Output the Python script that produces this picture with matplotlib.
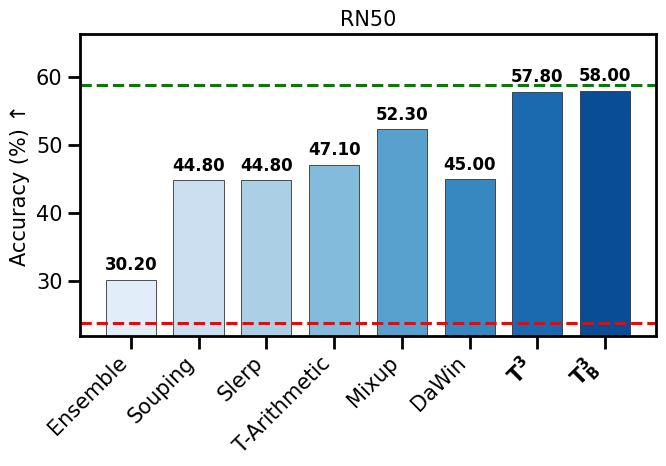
import numpy as np
import matplotlib
matplotlib.use("Agg")
import matplotlib.pyplot as plt
import seaborn as sns

methods = ["Ensemble", "Souping", "Slerp", "T-Arithmetic", "Mixup", "DaWin",
           r"$\mathbf{T^3}$", r"$\mathbf{T^3_B}$"]
accuracy = [30.20, 44.80, 44.80, 47.10, 52.30, 45.00, 57.80, 58.00]
upper_ref = 58.8   # green dashed line
lower_ref = 23.8   # red dashed line

plt.rcParams["font.family"] = ["DejaVu Sans"]

fig, ax = plt.subplots(figsize=(6.66, 4.66), dpi=100)
colors = sns.color_palette("Blues", len(methods))
x = np.arange(len(methods))
bars = ax.bar(x, accuracy, width=0.74, color=colors, edgecolor="#333333", linewidth=0.6)

for b, v in zip(bars, accuracy):
    ax.text(b.get_x() + b.get_width() / 2, v + 0.8, f"{v:.2f}",
            ha="center", va="bottom", fontsize=12, fontweight="bold", color="black")

ax.axhline(upper_ref, color="green", linestyle="--", linewidth=2.2)
ax.axhline(lower_ref, color="red", linestyle="--", linewidth=2.2)

ax.set_ylim(22.0, 66.3)
ax.set_xlim(-0.75, 7.75)
ax.set_yticks([30, 40, 50, 60])
ax.set_xticks(x)
ax.set_xticklabels(methods, rotation=45, ha="right", fontsize=15)
ax.tick_params(axis="both", labelsize=15, length=9, width=2)
ax.set_ylabel("Accuracy (%) ↑", fontsize=15)
ax.set_title("RN50", fontsize=15)
for s in ax.spines.values():
    s.set_linewidth(2)

fig.subplots_adjust(left=0.12, right=0.985, top=0.927, bottom=0.28)
fig.savefig("out.png", dpi=100)
